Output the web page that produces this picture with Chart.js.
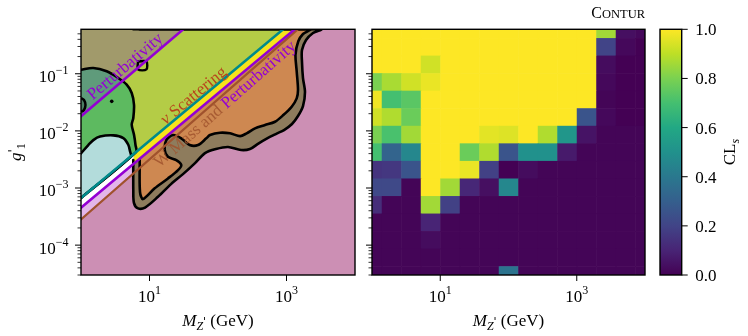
<!DOCTYPE html>
<html>
<head>
<meta charset="utf-8">
<script src="https://cdn.jsdelivr.net/npm/chart.js@4.4.1/dist/chart.umd.min.js"></script>
<style>
  body { margin: 0; background: #fff; }
  #wrap { position: relative; width: 748px; height: 336px; overflow: hidden; }
  canvas { position: absolute; top: 0; }
</style>
</head>
<body>
<div id="wrap">
  <canvas id="left-chart" width="365" height="336" style="left:0"></canvas>
  <canvas id="grid-chart" width="290" height="336" style="left:365px"></canvas>
  <canvas id="cbar-chart" width="93" height="336" style="left:655px"></canvas>
</div>
<script>
// ---- axes ----
const massRange = [1, 1e4];
const couplingRange = [3e-5, 0.6];
const massTicks = [10, 1000];
const couplingTicks = [1e-1, 1e-2, 1e-3, 1e-4];
const clsTicks = [0, 0.2, 0.4, 0.6, 0.8, 1.0];

// ---- left panel: regions (M [GeV], g'1) ----
const outerContour = [[5.80, 0.6], [3190, 0.6], [2440, 0.517], [1930, 0.390], [1683, 0.260], [1683, 0.1605],
  [1741, 0.0842], [1862, 0.0479], [1741, 0.0272], [1472, 0.0182], [1203, 0.0132], [920, 0.01035],
  [719, 0.00898], [514, 0.00734], [388, 0.0060], [293, 0.00481], [217, 0.00462], [140, 0.00521],
  [93.5, 0.00481], [64.6, 0.00409], [46.2, 0.00273], [30.8, 0.00175], [20.6, 0.00117], [13.3, 0.000702],
  [8.6, 0.000454], [6.8, 0.00044], [5.94, 0.000545], [5.80, 0.00092], [5.80, 0.00308]];
const innerContour = [[7.19, 0.6], [2203, 0.6], [1741, 0.496], [1487, 0.370], [1353, 0.2155], [1409, 0.1103],
  [1472, 0.0519], [1409, 0.0371], [1191, 0.0265], [898, 0.0189], [679, 0.01445], [486, 0.01265],
  [347, 0.01107], [262, 0.00906], [210, 0.00811], [150, 0.00906], [107, 0.00928], [76.4, 0.00846],
  [67.5, 0.0074], [51.1, 0.00565], [38.6, 0.00565], [29.1, 0.0074], [22.0, 0.00846], [17.6, 0.00691],
  [16.7, 0.00462], [18.6, 0.00352], [24.6, 0.00308], [29.1, 0.00252], [26.1, 0.00206], [18.6, 0.00147],
  [11.9, 0.000986], [8.04, 0.00064], [7.27, 0.000849], [7.19, 0.00308]];
const greenContour = [[1, 0.1177], [1.512, 0.126], [2.372, 0.1103], [3.504, 0.0842], [4.647, 0.0643],
  [5.5, 0.046], [5.94, 0.0287], [5.8, 0.01678], [5.5, 0.0128], [5.94, 0.00855], [6.25, 0.00565],
  [6.35, 0.00425], [1, 6.7e-4]];
const overlapPatch = [[1, 0.1177], [1.512, 0.126], [2.372, 0.1103], [3.504, 0.0842], [4.01, 0.074], [1, 0.018]];
const blueContour = [[1, 0.00404], [1.278, 0.00565], [1.512, 0.0069], [1.894, 0.00796], [2.962, 0.00835],
  [4.145, 0.00749], [4.9, 0.00572], [5.19, 0.00443], [5.3, 0.00355], [1, 6.7e-4]];
const smallLoop = [[6.8, 0.164], [9.0, 0.164], [9.0, 0.119], [6.8, 0.119], [6.8, 0.164]];
const edgeLoop = [[1, 0.0376], [1.106, 0.0347], [1.163, 0.0284], [1.106, 0.0232], [1, 0.0214]];
const islandDot = [[2.81, 0.0329]];

// theory lines
const pertLine = [[1, 0.018], [31.1, 0.6]];
const nuScatterLine = [[1, 6.7e-4], [895, 0.6]];
const lowerPertLine = [[1, 4.5e-4], [1320, 0.6]];
const wMassLine = [[1, 2.82e-4], [1460, 0.6]];

// bands between the theory lines
const lilacBand = [[1, 4.5e-4], [5.7, 2.57e-3], [5.7, 1.76e-3], [1, 2.82e-4]];
const whiteBand = [[1, 6.7e-4], [5.9, 3.95e-3], [5.9, 2.66e-3], [1, 4.5e-4]];
const yellowBand = [[5.9, 3.95e-3], [895, 0.6], [1320, 0.6], [5.9, 2.66e-3]];
const limeBand = [[1, 6.7e-4], [895, 0.6], [31.1, 0.6], [1, 0.018]];
const oliveCorner = [[1, 0.018], [31.1, 0.6], [1, 0.6]];

// ---- right panel: CLs grid ----
const massPoints = [1, 1.93, 3.73, 7.2, 13.9, 26.8, 51.8, 100, 193, 373, 720, 1390, 2680, 5180, 10000];
const couplingPoints = [0.6, 0.296, 0.146, 0.0719, 0.0355, 0.0175, 0.00861, 0.00425, 0.00209, 0.00103,
  5.08e-4, 2.51e-4, 1.24e-4, 6.08e-5, 3.0e-5];
const clsGrid = [
  [1, 1, 1, 1, 1, 1, 1, 1, 1, 1, 1, 1, 0.86, 0.04, 0.02],
  [1, 1, 1, 1, 1, 1, 1, 1, 1, 1, 1, 1, 0.2, 0.02, 0],
  [1, 1, 1, 0.93, 1, 1, 1, 1, 1, 1, 1, 1, 0.03, 0, 0],
  [0.8, 0.87, 0.93, 0.97, 1, 1, 1, 1, 1, 1, 1, 1, 0.02, 0, 0],
  [0.98, 0.7, 0.74, 1, 1, 1, 1, 1, 1, 1, 1, 1, 0.01, 0, 0],
  [0.93, 0.88, 0.77, 1, 1, 1, 1, 1, 1, 1, 1, 0.26, 0.02, 0, 0],
  [0.8, 0.71, 0.86, 1, 1, 1, 0.96, 0.95, 1, 0.88, 0.52, 0.05, 0.01, 0.01, 0.01],
  [0.7, 0.32, 0.46, 1, 1, 0.77, 0.88, 0.26, 0.5, 0.5, 0.07, 0.01, 0.01, 0.01, 0.01],
  [0.15, 0.16, 0.26, 1, 1, 0.97, 0.19, 0, 0.03, 0.01, 0.01, 0.01, 0.01, 0.01, 0.01],
  [0.22, 0.22, 0.01, 1, 0.86, 0.11, 0.04, 0.46, 0.01, 0.01, 0.01, 0.01, 0.01, 0.01, 0.01],
  [0.13, 0.01, 0.01, 0.86, 0.19, 0.01, 0.01, 0.01, 0.01, 0.01, 0.01, 0.01, 0.01, 0.01, 0.01],
  [0.01, 0.01, 0.01, 0.1, 0.01, 0.01, 0.01, 0.01, 0.01, 0.01, 0.01, 0.01, 0.01, 0.01, 0.01],
  [0.01, 0.01, 0.01, 0.03, 0.01, 0.01, 0.01, 0.01, 0.01, 0.01, 0.01, 0.01, 0.01, 0.01, 0.01],
  [0.01, 0.01, 0.01, 0.01, 0.01, 0.01, 0.01, 0.01, 0.01, 0.01, 0.01, 0.01, 0.01, 0.01, 0.01],
  [0.01, 0.01, 0.01, 0.01, 0.01, 0.01, 0.01, 0.38, 0.01, 0.01, 0.01, 0.01, 0.01, 0.01, 0.01],
];

const viridis = ['#440154', '#482475', '#414487', '#355f8d', '#2a788e', '#21918c',
  '#22a884', '#44bf70', '#7ad151', '#bddf26', '#fde725'];

const SERIF = '"Liberation Serif", "DejaVu Serif", serif';
const PRIME_FONT = '"DejaVu Sans", sans-serif';
const PURPLE = '#9400d3', TEAL = '#008b8b', BROWN = '#a0522d', RUST = '#b8461c';

function viridisColor(v) {
  const t = Math.max(0, Math.min(1, v)) * (viridis.length - 1);
  const i = Math.min(Math.floor(t), viridis.length - 2);
  const f = t - i;
  const a = viridis[i], b = viridis[i + 1];
  const ch = (h, k) => parseInt(h.substr(1 + 2 * k, 2), 16);
  const mix = [0, 1, 2].map((k) => Math.round(ch(a, k) + (ch(b, k) - ch(a, k)) * f));
  return `rgb(${mix.join(',')})`;
}

const xy = (pts) => pts.map(([x, y]) => ({ x, y }));

function region(pts, color, smooth) {
  return { data: xy(pts), backgroundColor: color, borderWidth: 0, fill: 'shape',
    pointRadius: 0, tension: smooth ? 0.3 : 0 };
}
function outline(pts, color, width, smooth) {
  return { data: xy(pts), borderColor: color, borderWidth: width, fill: false, pointRadius: 0,
    tension: smooth ? 0.3 : 0, borderJoinStyle: 'round', borderCapStyle: 'round' };
}

function font(r) {
  return (r.italic ? 'italic ' : '') + (r.size || 17) + 'px ' + (r.family || SERIF);
}

// text made of runs: [{t, size, italic, dy, color, family}]
function drawRuns(ctx, runs, x, y, align) {
  let total = 0;
  runs.forEach((r) => {
    ctx.font = font(r);
    r.w = ctx.measureText(r.t).width;
    total += r.w;
  });
  let cx = align === 'center' ? x - total / 2 : align === 'right' ? x - total : x;
  ctx.textAlign = 'left';
  ctx.textBaseline = 'alphabetic';
  runs.forEach((r) => {
    ctx.font = font(r);
    ctx.fillStyle = r.color || '#000';
    ctx.fillText(r.t, cx, y + (r.dy || 0));
    cx += r.w;
  });
}

function powRuns(exp) {
  return [{ t: '10' }, { t: exp, size: 12, dy: -8 }];
}

function drawFrame(ctx, a) {
  ctx.strokeStyle = '#000';
  ctx.lineWidth = 1.4;
  ctx.strokeRect(a.left, a.top, a.width, a.height);
}

function tick(ctx, x1, y1, x2, y2, w) {
  ctx.lineWidth = w;
  ctx.beginPath();
  ctx.moveTo(x1, y1);
  ctx.lineTo(x2, y2);
  ctx.stroke();
}

function drawLogAxes(chart, withLabels) {
  const { ctx, chartArea: a, scales: { x, y } } = chart;
  ctx.save();
  ctx.strokeStyle = '#000';
  massTicks.forEach((v) => {
    const px = x.getPixelForValue(v);
    tick(ctx, px, a.bottom, px, a.bottom + 6, 1);
    drawRuns(ctx, powRuns(String(Math.round(Math.log10(v)))), px, 302, 'center');
  });
  for (let e = -5; e <= 0; e++) {
    for (let m = 1; m <= 9; m++) {
      const v = m * Math.pow(10, e);
      if (v < couplingRange[0] || v > couplingRange[1]) continue;
      const py = y.getPixelForValue(v);
      if (m === 1) tick(ctx, a.left, py, a.left - 6, py, 1);
      else tick(ctx, a.left, py, a.left - 3.5, py, 0.8);
    }
  }
  if (withLabels) {
    couplingTicks.forEach((v) => {
      const py = y.getPixelForValue(v);
      drawRuns(ctx, powRuns('\u2212' + Math.round(-Math.log10(v))), 68.5, py + 8.4, 'right');
    });
  }
  drawFrame(ctx, a);
  // x axis title
  drawRuns(ctx, [{ t: 'M', italic: true }, { t: 'Z', size: 12, italic: true, dy: 3.5 },
    { t: "'", size: 11, family: PRIME_FONT, dy: -1 }, { t: ' (GeV)' }],
    (a.left + a.right) / 2, 326, 'center');
  ctx.restore();
}

const lineLabels = [
  { at: [4.39, 0.134], along: pertLine, runs: [{ t: 'Perturbativity', color: PURPLE }] },
  { at: [43.9, 0.0416], along: nuScatterLine,
    runs: [{ t: '\u03bd', italic: true, color: RUST }, { t: ' Scattering', color: RUST }] },
  { at: [126.5, 0.0295], along: wMassLine,
    runs: [{ t: 'W Mass and ', color: 'rgba(160,82,45,0.85)' }, { t: 'Perturbativity', color: PURPLE }] },
];

const leftDecor = {
  id: 'leftDecor',
  beforeDatasetsDraw(chart) {
    const { ctx, chartArea: a } = chart;
    ctx.save();
    ctx.fillStyle = '#cc8fb4';
    ctx.fillRect(a.left, a.top, a.width, a.height);
    ctx.restore();
  },
  afterDatasetsDraw(chart) {
    const { ctx, chartArea: a, scales: { x, y } } = chart;
    ctx.save();
    ctx.beginPath();
    ctx.rect(a.left, a.top, a.width, a.height);
    ctx.clip();
    lineLabels.forEach((lab) => {
      const [p, q] = lab.along;
      const ang = Math.atan2(y.getPixelForValue(q[1]) - y.getPixelForValue(p[1]),
        x.getPixelForValue(q[0]) - x.getPixelForValue(p[0]));
      ctx.save();
      ctx.translate(x.getPixelForValue(lab.at[0]), y.getPixelForValue(lab.at[1]));
      ctx.rotate(ang);
      drawRuns(ctx, lab.runs, 0, 5, 'center');
      ctx.restore();
    });
    ctx.restore();
  },
  afterDraw(chart) {
    drawLogAxes(chart, true);
    const { ctx, chartArea: a } = chart;
    ctx.save();
    ctx.translate(16, (a.top + a.bottom) / 2);
    ctx.rotate(-Math.PI / 2);
    drawRuns(ctx, [{ t: 'g', italic: true }, { t: "'", size: 12, family: PRIME_FONT, dy: -4 },
      { t: '1', size: 12, dy: 4 }], 0, 5, 'center');
    ctx.restore();
  },
};

const layers = [
  region(outerContour, '#8e7c5d', true),
  region(innerContour, '#ce8851', true),
  region(lilacBand, '#e3b6ea'),
  region(whiteBand, '#ffffff'),
  region(yellowBand, '#f6e31b'),
  region(limeBand, '#b4cc46'),
  region(oliveCorner, '#a19a6b'),
  region(greenContour, '#5dba60', true),
  region(overlapPatch, '#5f9b7b', true),
  region(blueContour, '#b3dcdb', true),
  { ...region(edgeLoop, '#4b7d63', true), borderColor: '#000', borderWidth: 2.5 },
  outline(outerContour, '#000', 2.6, true),
  outline(innerContour, '#000', 2.6, true),
  outline(greenContour, '#000', 2.6, true),
  outline(blueContour, '#000', 2.6, true),
  outline(smallLoop, '#000', 2.4, true),
  outline(wMassLine, BROWN, 2.2),
  outline(lowerPertLine, PURPLE, 2.6),
  outline(nuScatterLine, TEAL, 2.6),
  outline(pertLine, PURPLE, 2.6),
  { data: xy(islandDot), showLine: false, pointRadius: 1.8, pointBackgroundColor: '#000', pointBorderWidth: 0 },
];
layers.forEach((d, i) => { d.order = layers.length - i; });

const logScales = {
  x: { type: 'logarithmic', min: massRange[0], max: massRange[1], display: false },
  y: { type: 'logarithmic', min: couplingRange[0], max: couplingRange[1], display: false },
};

new Chart(document.getElementById('left-chart'), {
  type: 'line',
  data: { datasets: layers },
  options: {
    responsive: false,
    animation: false,
    layout: { padding: { left: 81, top: 29.3, right: 10, bottom: 61 } },
    plugins: { legend: { display: false }, tooltip: { enabled: false } },
    scales: logScales,
  },
  plugins: [leftDecor],
});

// ---- right panel ----
const cells = [];
clsGrid.forEach((row, r) => row.forEach((v, c) => cells.push({ x: massPoints[c], y: couplingPoints[r], v })));

function cellEdges(p) {
  return p.map((c, i) => [
    i > 0 ? (p[i - 1] + c) / 2 : c - (p[1] - p[0]) / 2,
    i < p.length - 1 ? (c + p[i + 1]) / 2 : c + (c - p[i - 1]) / 2,
  ]);
}

const gridDecor = {
  id: 'gridDecor',
  beforeDatasetsDraw(chart) {
    const { ctx, chartArea: a, scales: { x, y } } = chart;
    const xe = cellEdges(massPoints.map((v) => x.getPixelForValue(v)));
    const ye = cellEdges(couplingPoints.map((v) => y.getPixelForValue(v)));
    ctx.save();
    ctx.beginPath();
    ctx.rect(a.left, a.top, a.width, a.height);
    ctx.clip();
    chart.data.datasets[0].data.forEach((d, i) => {
      const c = i % massPoints.length, r = Math.floor(i / massPoints.length);
      const [x0, x1] = xe[c], [y0, y1] = ye[r];
      ctx.fillStyle = viridisColor(d.v);
      // small overlap so neighbouring cells leave only a faint seam
      ctx.fillRect(x0, Math.min(y0, y1), x1 - x0 + 0.6, Math.abs(y1 - y0) + 0.6);
    });
    ctx.restore();
  },
  afterDraw(chart) {
    drawLogAxes(chart, false);
    const { ctx, chartArea: a } = chart;
    drawRuns(ctx, [{ t: 'C', size: 16 }, { t: 'ONTUR', size: 12.5 }], a.right, 18, 'right');
  },
};

new Chart(document.getElementById('grid-chart'), {
  type: 'scatter',
  data: { datasets: [{ data: cells, pointRadius: 0, pointHoverRadius: 0 }] },
  options: {
    responsive: false,
    animation: false,
    layout: { padding: { left: 7, top: 29.3, right: 10, bottom: 61 } },
    plugins: { legend: { display: false }, tooltip: { enabled: false } },
    scales: logScales,
  },
  plugins: [gridDecor],
});

// ---- colour bar ----
const cbarDecor = {
  id: 'cbarDecor',
  afterDraw(chart) {
    const { ctx, chartArea: a, scales: { y } } = chart;
    ctx.save();
    ctx.strokeStyle = '#000';
    clsTicks.forEach((v) => {
      const py = y.getPixelForValue(v);
      tick(ctx, a.right, py, a.right + 6, py, 1);
      drawRuns(ctx, [{ t: v.toFixed(1) }], a.right + 13.5, py + 6, 'left');
    });
    drawFrame(ctx, a);
    ctx.translate(80, (a.top + a.bottom) / 2);
    ctx.rotate(-Math.PI / 2);
    drawRuns(ctx, [{ t: 'CL' }, { t: 's', size: 12, italic: true, dy: 3.5 }], 0, 0, 'center');
    ctx.restore();
  },
};

new Chart(document.getElementById('cbar-chart'), {
  type: 'bar',
  data: {
    labels: ['CLs'],
    datasets: [{
      data: [[clsTicks[0], clsTicks[clsTicks.length - 1]]],
      barPercentage: 1,
      categoryPercentage: 1,
      borderWidth: 0,
      backgroundColor: (context) => {
        const { ctx, chartArea } = context.chart;
        if (!chartArea) return viridis[5];
        const g = ctx.createLinearGradient(0, chartArea.bottom, 0, chartArea.top);
        viridis.forEach((c, i) => g.addColorStop(i / (viridis.length - 1), c));
        return g;
      },
    }],
  },
  options: {
    responsive: false,
    animation: false,
    layout: { padding: { left: 5, top: 29.3, right: 66.3, bottom: 61 } },
    plugins: { legend: { display: false }, tooltip: { enabled: false } },
    scales: {
      x: { display: false },
      y: { min: 0, max: 1, display: false },
    },
  },
  plugins: [cbarDecor],
});
</script>
</body>
</html>
